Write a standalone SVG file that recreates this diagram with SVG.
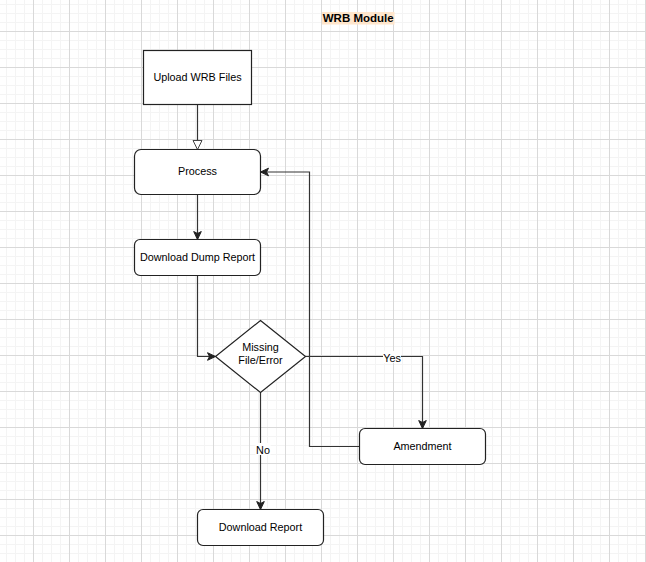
<svg xmlns="http://www.w3.org/2000/svg" width="646" height="562" viewBox="0 0 646 562">
<defs>
<pattern id="minor" patternUnits="userSpaceOnUse" x="6" y="4" width="9" height="9">
<path d="M0 0.5H9M0.5 0V9" stroke="#f4f4f4" stroke-width="1" fill="none"/>
</pattern>
<pattern id="major" patternUnits="userSpaceOnUse" x="33" y="31" width="36" height="36">
<path d="M0 0.5H36M0.5 0V36" stroke="#d9d9d9" stroke-width="1" fill="none"/>
</pattern>
<marker id="arr" markerUnits="userSpaceOnUse" markerWidth="10" markerHeight="10" viewBox="0 0 10 10" refX="9" refY="5" orient="auto">
<path d="M1,1.2 L9,5 L1,8.8 L3,5 Z" fill="#222" stroke="#222" stroke-width="1"/>
</marker>
<marker id="open" markerUnits="userSpaceOnUse" markerWidth="12" markerHeight="12" viewBox="0 0 12 12" refX="10" refY="6" orient="auto">
<path d="M1,1.5 L10,6 L1,10.5 Z" fill="#fff" stroke="#444" stroke-width="1"/>
</marker>
</defs>
<style>
.n{fill:#fff;stroke:#222;stroke-width:1.2}
.t{font-family:"Liberation Sans",Arial,sans-serif;font-size:10.8px;fill:#000;text-anchor:middle}
.c{fill:none;stroke:#333;stroke-width:1.2}
.lb{font-family:"Liberation Sans",Arial,sans-serif;font-size:10.8px;fill:#000;text-anchor:middle}
</style>
<rect width="646" height="562" fill="#fff"/>
<rect width="646" height="562" fill="url(#minor)"/>
<rect width="646" height="562" fill="url(#major)"/>

<g id="title">
<rect x="322" y="12" width="72.5" height="12.5" fill="#ffe6cc"/>
<text x="358.2" y="22.3" font-family="Liberation Sans,Arial,sans-serif" font-size="11.5" font-weight="bold" text-anchor="middle" fill="#000">WRB Module</text>
</g>

<g id="connectors">
<path class="c" d="M197.5 104.5V149.5" stroke="#555" marker-end="url(#open)"/>
<path class="c" d="M197.5 194.5V239.5" marker-end="url(#arr)"/>
<path class="c" d="M197.5 275.5V356.5H215.5" marker-end="url(#arr)"/>
<path class="c" d="M305.5 356.5H422.5V428.5" marker-end="url(#arr)"/>
<path class="c" d="M359.5 446.5H309.5V172H260.5" marker-end="url(#arr)"/>
<path class="c" d="M260.5 392.5V509.5" marker-end="url(#arr)"/>
<rect x="383" y="351" width="18" height="12" fill="#fff"/>
<text class="lb" x="392" y="361.5">Yes</text>
<rect x="255.5" y="443" width="15" height="12" fill="#fff"/>
<text class="lb" x="263" y="453.5">No</text>
</g>

<g id="upload">
<rect class="n" x="143.5" y="50.5" width="108" height="54"/>
<text class="t" x="197.5" y="81">Upload WRB Files</text>
</g>

<g id="process">
<rect class="n" x="134.5" y="149.5" width="126" height="45" rx="6.5"/>
<text class="t" x="197.5" y="175">Process</text>
</g>

<g id="dump">
<rect class="n" x="134.5" y="239.5" width="126" height="36" rx="5.5"/>
<text class="t" x="197.5" y="261">Download Dump Report</text>
</g>

<g id="decision">
<path class="n" d="M260.5 320.5L305.5 356.5L260.5 392.5L215.5 356.5Z"/>
<text class="t" x="260.5" y="351">Missing</text>
<text class="t" x="260.5" y="364">File/Error</text>
</g>

<g id="amendment">
<rect class="n" x="359.5" y="428.5" width="126" height="36" rx="5.5"/>
<text class="t" x="422.5" y="450">Amendment</text>
</g>

<g id="report">
<rect class="n" x="197.5" y="509.5" width="126" height="36" rx="5.5"/>
<text class="t" x="260.5" y="531">Download Report</text>
</g>
</svg>
